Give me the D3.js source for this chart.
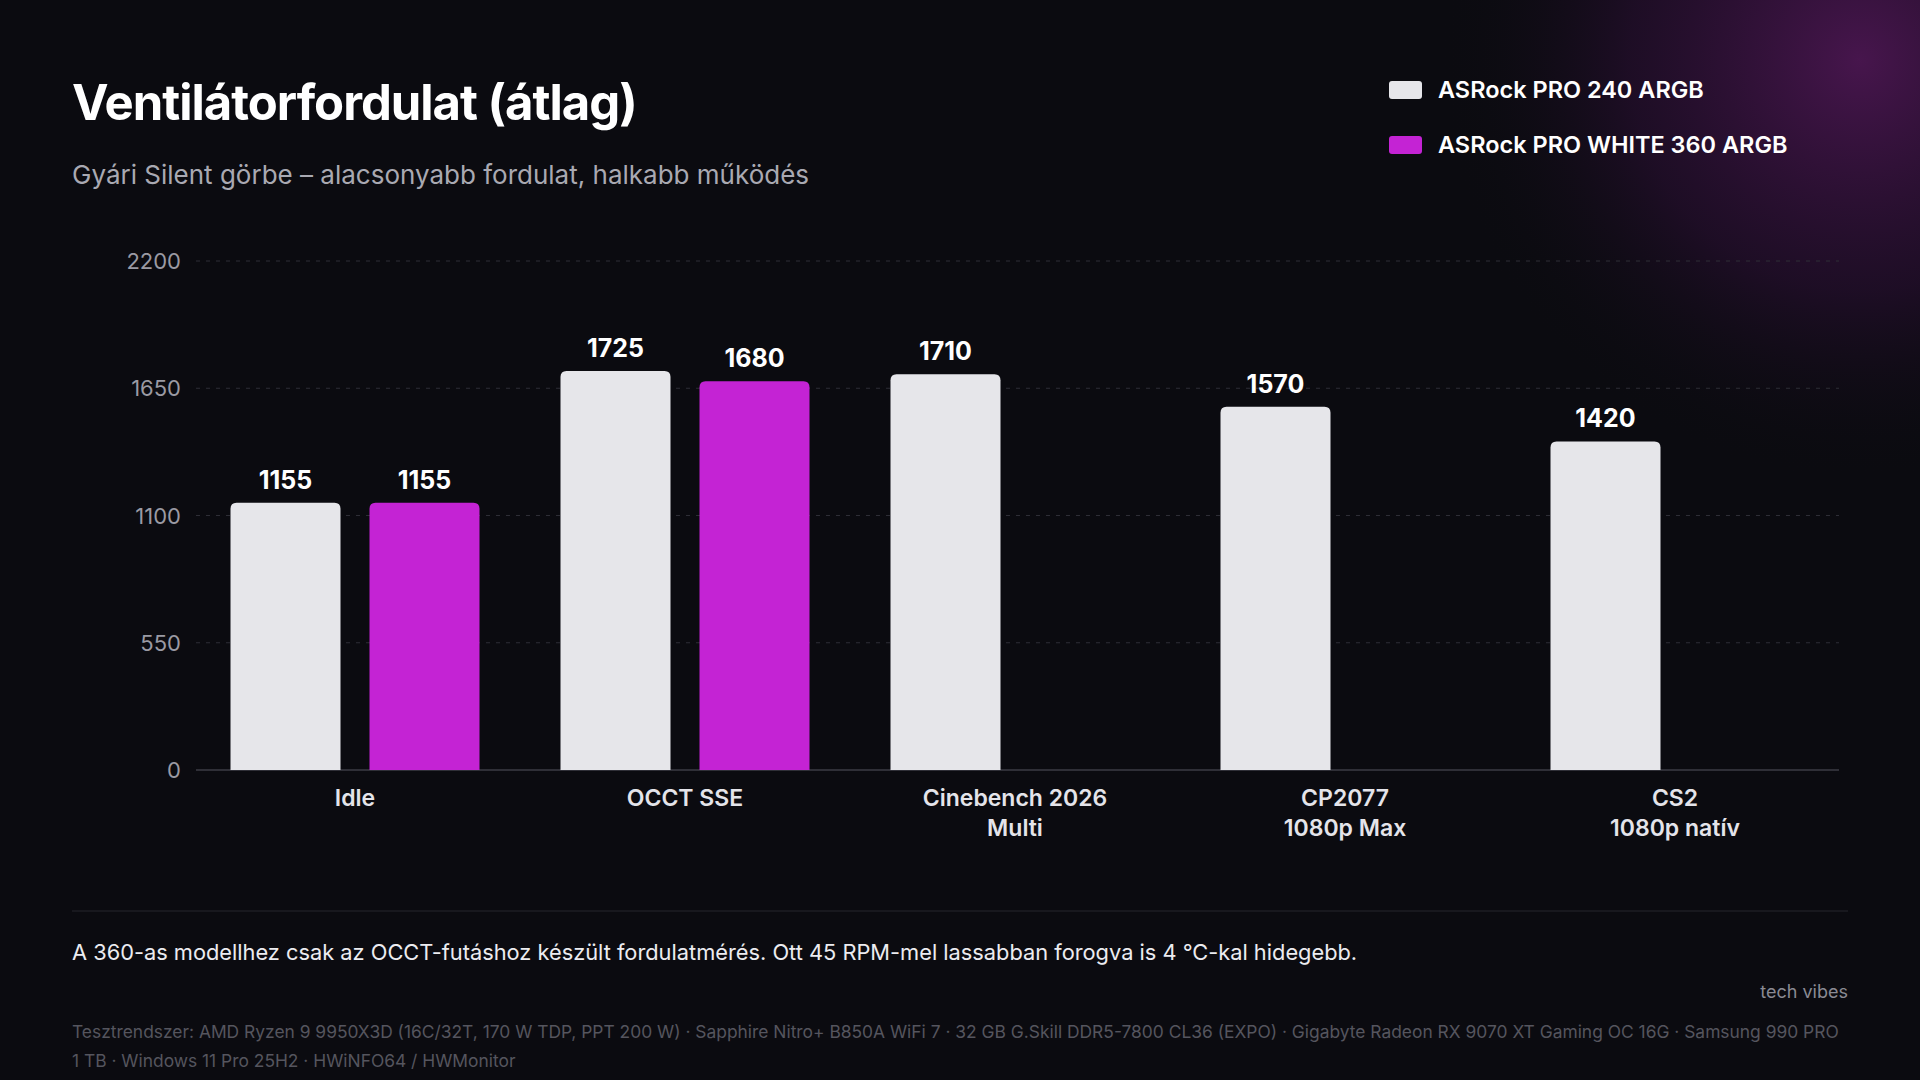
<!DOCTYPE html>
<html><head><meta charset="utf-8">
<script src="https://cdn.jsdelivr.net/npm/d3@7"></script>
<style>body{margin:0;background:#0b0b10}svg{display:block;font-family:Inter,"Noto Sans",sans-serif}</style>
</head><body><svg id="c" width="1920" height="1080"></svg>
<script>
// data
var categories = [["Idle"], ["OCCT SSE"], ["Cinebench 2026", "Multi"], ["CP2077", "1080p Max"], ["CS2", "1080p natív"]];
var seriesNames = ["ASRock PRO 240 ARGB", "ASRock PRO WHITE 360 ARGB"];
var pro240 = [1155, 1725, 1710, 1570, 1420];
var white360 = [1155, 1680, null, null, null];
var yTicks = [0, 550, 1100, 1650, 2200];
var colors = ["#e6e6ea", "#c423d4"];

var svg = d3.select("#c");
var defs = svg.append("defs");
var g1 = defs.append("radialGradient").attr("id", "glow").attr("cx", 0.5).attr("cy", 0.5).attr("r", 0.5);
g1.append("stop").attr("offset", "0%").attr("stop-color", "#4a1650").attr("stop-opacity", 0.95);
g1.append("stop").attr("offset", "55%").attr("stop-color", "#2a0f33").attr("stop-opacity", 0.6);
g1.append("stop").attr("offset", "100%").attr("stop-color", "#0b0b10").attr("stop-opacity", 0);
svg.append("rect").attr("width", 1920).attr("height", 1080).attr("fill", "#0b0b10");
svg.append("circle").attr("cx", 1860).attr("cy", 60).attr("r", 420).attr("fill", "url(#glow)");

svg.append("text").attr("x", 72).attr("y", 120).attr("fill", "#fff").attr("font-size", 49).attr("font-weight", 700)
  .attr("letter-spacing", -1).text("Ventilátorfordulat (átlag)");
svg.append("text").attr("x", 72).attr("y", 184).attr("fill", "#a9a9b2").attr("font-size", 26).text("Gyári Silent görbe – alacsonyabb fordulat, halkabb működés");

// legend
seriesNames.forEach(function(n, i) {
  var ly = 90 + i * 55;
  svg.append("rect").attr("x", 1389).attr("y", ly - 9).attr("width", 33).attr("height", 18).attr("rx", 3).attr("fill", colors[i]);
  svg.append("text").attr("x", 1438).attr("y", ly + 8).attr("fill", "#fff").attr("font-size", 23.5).attr("font-weight", 600).text(n);
});

var y = d3.scaleLinear().domain([0, 2200]).range([770, 261]);
var x = d3.scaleBand().domain(d3.range(categories.length)).range([190, 1840]);
var barW = 110, gap = 29;

yTicks.forEach(function(t) {
  svg.append("line").attr("x1", 196).attr("x2", 1839).attr("y1", y(t)).attr("y2", y(t))
    .attr("stroke", t === 0 ? "#55555f" : "#2e2e36").attr("stroke-dasharray", t === 0 ? null : "4,6");
  svg.append("text").attr("x", 181).attr("y", y(t) + 8).attr("text-anchor", "end").attr("fill", "#9a9aa3").attr("font-size", 22).text(t);
});

function topRounded(x0, y0, w, h, r) {
  return "M" + x0 + "," + (y0 + h) + "V" + (y0 + r) + "Q" + x0 + "," + y0 + " " + (x0 + r) + "," + y0 +
    "H" + (x0 + w - r) + "Q" + (x0 + w) + "," + y0 + " " + (x0 + w) + "," + (y0 + r) + "V" + (y0 + h) + "Z";
}

[pro240, white360].forEach(function(arr, s) {
  arr.forEach(function(v, i) {
    if (v == null) return;
    var cx = x(i) + x.bandwidth() / 2 + (s === 0 ? -1 : 1) * (barW + gap) / 2;
    svg.append("path").attr("d", topRounded(cx - barW / 2, y(v), barW, y(0) - y(v), 6)).attr("fill", colors[s]);
    svg.append("text").attr("x", cx).attr("y", y(v) - 14).attr("text-anchor", "middle").attr("fill", "#fff")
      .attr("font-size", 25).attr("font-weight", 700).text(v);
  });
});

categories.forEach(function(c, i) {
  c.forEach(function(l, j) {
    svg.append("text").attr("x", x(i) + x.bandwidth() / 2).attr("y", 806 + j * 30).attr("text-anchor", "middle")
      .attr("fill", "#e4e4ea").attr("font-size", 23).attr("font-weight", 600).text(l);
  });
});

svg.append("line").attr("x1", 72).attr("x2", 1848).attr("y1", 911).attr("y2", 911).attr("stroke", "#26262d");
svg.append("text").attr("x", 72).attr("y", 960).attr("fill", "#ececf0").attr("font-size", 21.8)
  .text("A 360-as modellhez csak az OCCT-futáshoz készült fordulatmérés. Ott 45 RPM-mel lassabban forogva is 4 °C-kal hidegebb.");
svg.append("text").attr("x", 1848).attr("y", 998).attr("text-anchor", "end").attr("fill", "#8a8a93").attr("font-size", 18).text("tech vibes");
svg.append("text").attr("x", 72).attr("y", 1038).attr("fill", "#55555e").attr("font-size", 17.4)
  .text("Tesztrendszer: AMD Ryzen 9 9950X3D (16C/32T, 170 W TDP, PPT 200 W) · Sapphire Nitro+ B850A WiFi 7 · 32 GB G.Skill DDR5-7800 CL36 (EXPO) · Gigabyte Radeon RX 9070 XT Gaming OC 16G · Samsung 990 PRO");
svg.append("text").attr("x", 72).attr("y", 1067).attr("fill", "#55555e").attr("font-size", 17.4)
  .text("1 TB · Windows 11 Pro 25H2 · HWiNFO64 / HWMonitor");
</script></body></html>
